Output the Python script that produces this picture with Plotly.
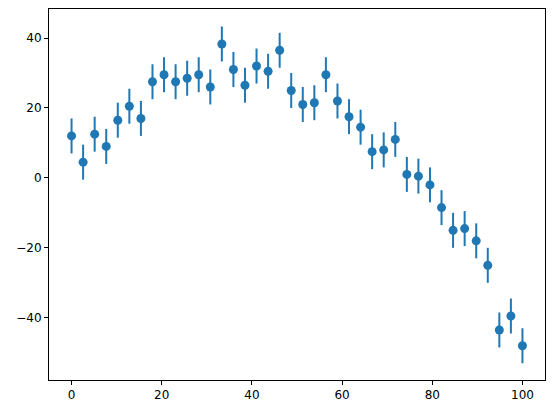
import numpy as np
import plotly.graph_objects as go

x = np.linspace(0, 100, 40)
y = [12, 4.5, 12.5, 9, 16.5, 20.5, 17, 27.5, 29.5, 27.5, 28.5, 29.5, 26, 38.3, 31, 26.5,
     32, 30.5, 36.5, 25, 21, 21.5, 29.5, 22, 17.5, 14.5, 7.5, 8, 11, 1, 0.5, -2,
     -8.5, -15, -14.5, -18, -25, -43.5, -39.5, -48]
err = [5] * 40

fig = go.Figure(go.Scatter(
    x=x, y=y, mode="markers",
    marker=dict(color="#1f77b4", size=9),
    error_y=dict(type="data", array=err, color="#1f77b4", thickness=2, width=0),
))
axis = dict(showgrid=False, zeroline=False, showline=True, linecolor="black", mirror=True,
            ticks="outside", ticklen=4, tickcolor="black", tickfont=dict(size=12, color="black"))
fig.update_layout(
    width=554, height=413, plot_bgcolor="white", paper_bgcolor="white",
    margin=dict(l=41, r=17, t=1, b=41),
    font=dict(family="DejaVu Sans"),
    xaxis=dict(range=[-5, 105], tickvals=[0, 20, 40, 60, 80, 100], **axis),
    yaxis=dict(range=[-57.8, 48.3], tickvals=[-40, -20, 0, 20, 40], **axis),
    showlegend=False,
)
fig.write_html("out.html")
